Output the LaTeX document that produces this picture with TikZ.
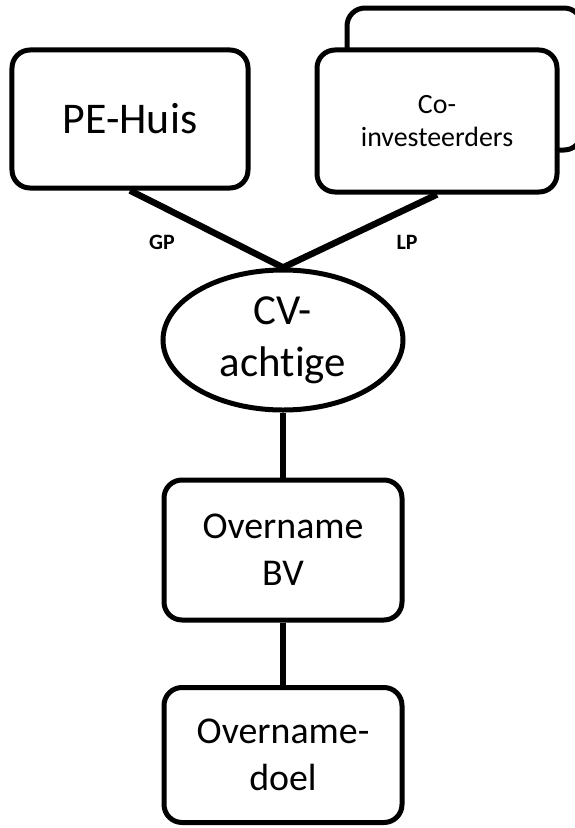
\documentclass[tikz,border=0pt]{standalone}
\usepackage{fontspec}
\setmainfont[Ligatures=CommonOff]{Carlito}
\usetikzlibrary{shapes.geometric}
\begin{document}
\begin{tikzpicture}[x=1bp,y=-1bp,
  box/.style={draw,line width=5bp,rounded corners=18bp,inner sep=0pt,align=center,fill=white},
  oval/.style={draw,ellipse,line width=5bp,inner sep=0pt,align=center,fill=white},
  conn/.style={line width=6.5bp},
  lbl/.style={font=\fontsize{22}{26}\selectfont\bfseries,inner sep=0pt}]
\useasboundingbox (0,0) rectangle (575,828);
\begin{scope}
\clip (0,0) rectangle (575,828);
\draw[line width=5bp,rounded corners=18bp,fill=white] (347,8) rectangle (582,150);
\end{scope}
\node[box,minimum width=236bp,minimum height=138bp,font=\fontsize{44}{53}\selectfont] (pe) at (130,119) {PE-Huis};
\node[box,minimum width=240bp,minimum height=142bp,font=\fontsize{28}{33}\selectfont] (co) at (437,121) {Co-\\investeerders};
\node[oval,minimum width=240bp,minimum height=140bp,font=\fontsize{43}{52}\selectfont] (cv) at (283,340) {CV-\\achtige};
\node[box,minimum width=238bp,minimum height=140bp,font=\fontsize{38}{47}\selectfont] (bv) at (283,550) {Overname\\BV};
\node[box,minimum width=238bp,minimum height=135bp,font=\fontsize{38}{47}\selectfont] (doel) at (283,755) {Overname-\\doel};
\draw[conn] (pe.south) -- (cv.north);
\draw[conn] (co.south) -- (cv.north);
\draw[conn] (cv.south) -- (bv.north);
\draw[conn] (bv.south) -- (doel.north);
\node[lbl] (gp) at (162,242) {GP};
\node[lbl] (lp) at (407,242) {LP};
\end{tikzpicture}
\end{document}
